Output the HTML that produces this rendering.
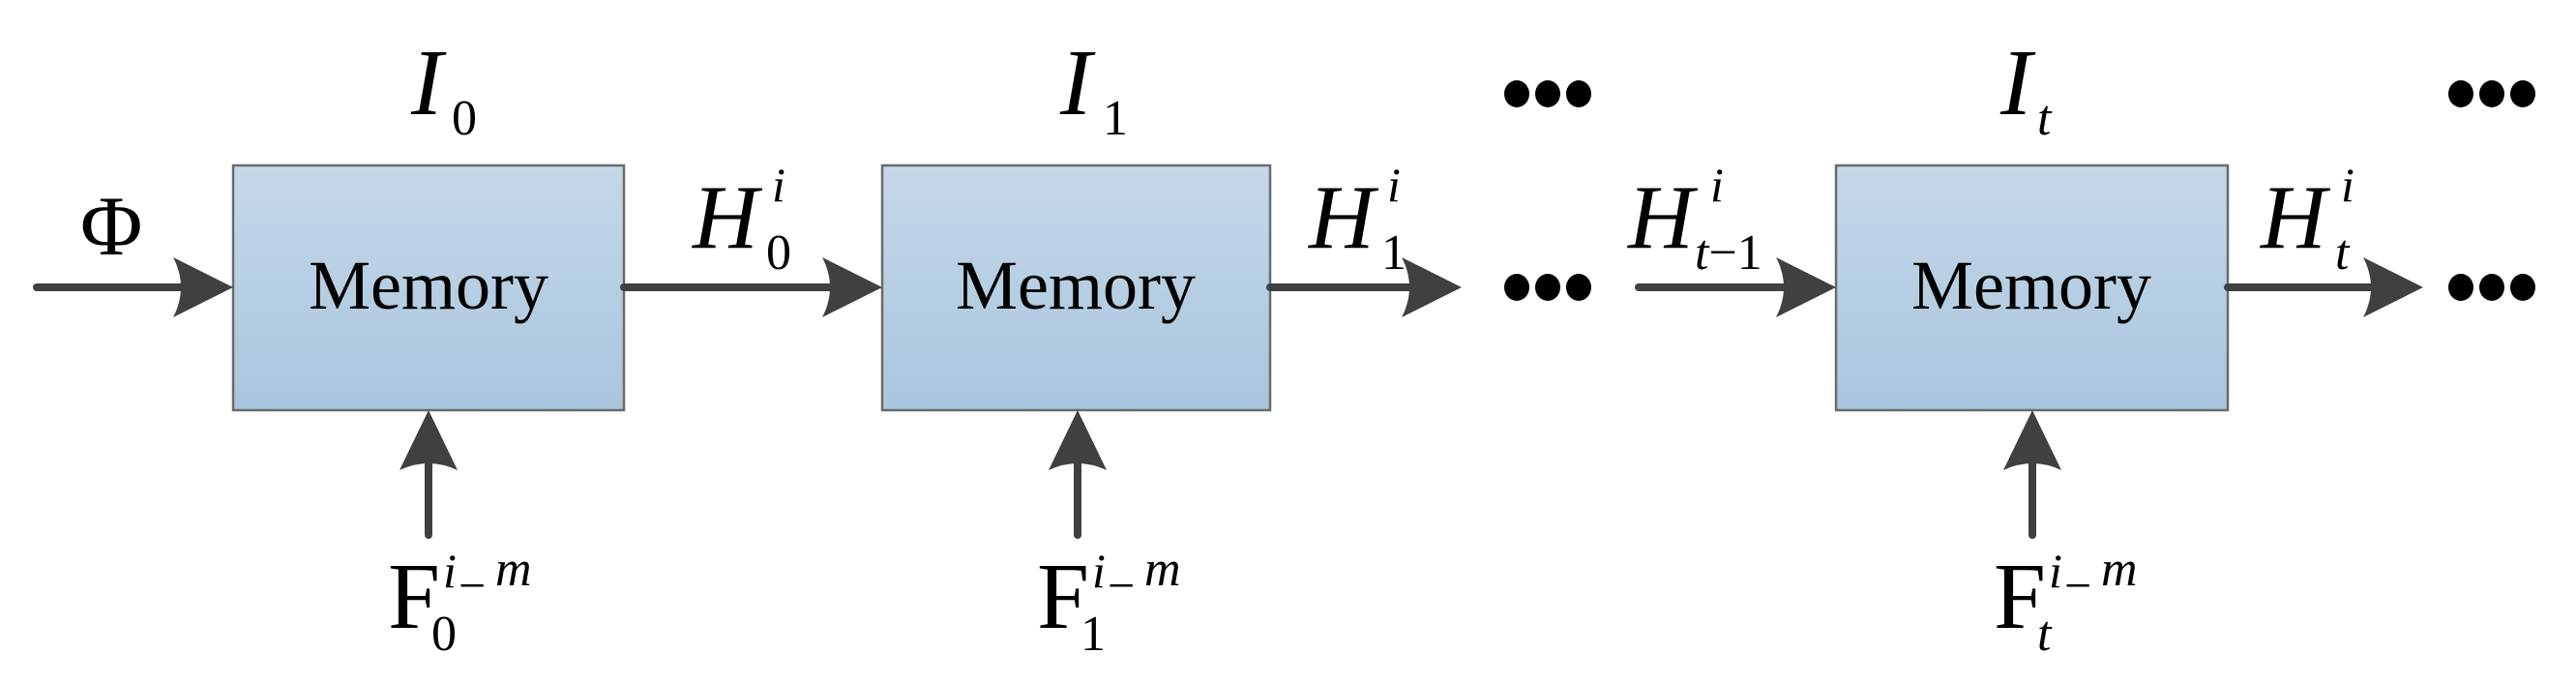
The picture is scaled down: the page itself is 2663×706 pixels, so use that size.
<!DOCTYPE html>
<html><head><meta charset="utf-8"><style>
html,body{margin:0;padding:0;background:#fff;}
svg{display:block;}
text{font-family:"Liberation Serif",serif;fill:#000;}
.it{font-style:italic;}
</style></head><body>
<svg width="2663" height="706" viewBox="0 0 2663 706" xmlns="http://www.w3.org/2000/svg">
<defs>
<linearGradient id="g" x1="0" y1="0" x2="0" y2="1">
<stop offset="0" stop-color="#c5d8e9"/><stop offset="1" stop-color="#a9c5dd"/>
</linearGradient>
</defs>
<!-- boxes -->
<rect x="241" y="171" width="404" height="253" fill="url(#g)" stroke="#6b6b6b" stroke-width="2.5"/>
<rect x="912" y="171" width="401" height="253" fill="url(#g)" stroke="#6b6b6b" stroke-width="2.5"/>
<rect x="1898" y="171" width="405" height="253" fill="url(#g)" stroke="#6b6b6b" stroke-width="2.5"/>
<g stroke="#404040" stroke-width="8" stroke-linecap="round" fill="none">
<line x1="38" y1="297" x2="200" y2="297"/>
<line x1="645" y1="297" x2="870" y2="297"/>
<line x1="1313" y1="297" x2="1470" y2="297"/>
<line x1="1694" y1="297" x2="1860" y2="297"/>
<line x1="2303" y1="297" x2="2465" y2="297"/>
<line x1="443" y1="553" x2="443" y2="470"/>
<line x1="1114" y1="553" x2="1114" y2="470"/>
<line x1="2101" y1="553" x2="2101" y2="470"/>
</g>
<g fill="#404040">
<path d="M241 297 L179 266 Q195 297 179 328 Z"/>
<path d="M912 297 L850 266 Q866 297 850 328 Z"/>
<path d="M1511 297 L1449 266 Q1465 297 1449 328 Z"/>
<path d="M1898 297 L1836 266 Q1852 297 1836 328 Z"/>
<path d="M2505 297 L2443 266 Q2459 297 2443 328 Z"/>
<path d="M443 424 L413 486 Q443 472 473 486 Z"/>
<path d="M1114 424 L1084 486 Q1114 472 1144 486 Z"/>
<path d="M2101 424 L2071 486 Q2101 472 2131 486 Z"/>
</g>
<!-- dots -->
<g fill="#000">
<ellipse cx="1568" cy="97" rx="13" ry="14"/><ellipse cx="1600" cy="97" rx="13" ry="14"/><ellipse cx="1632" cy="97" rx="13" ry="14"/>
<ellipse cx="1568" cy="297" rx="13" ry="14"/><ellipse cx="1600" cy="297" rx="13" ry="14"/><ellipse cx="1632" cy="297" rx="13" ry="14"/>
<ellipse cx="2544" cy="97" rx="13" ry="14"/><ellipse cx="2576" cy="97" rx="13" ry="14"/><ellipse cx="2608" cy="97" rx="13" ry="14"/>
<ellipse cx="2544" cy="297" rx="13" ry="14"/><ellipse cx="2576" cy="297" rx="13" ry="14"/><ellipse cx="2608" cy="297" rx="13" ry="14"/>
</g>
<!-- Memory labels -->
<text x="443" y="319" font-size="72" text-anchor="middle">Memory</text>
<text x="1112" y="319" font-size="72" text-anchor="middle">Memory</text>
<text x="2100" y="319" font-size="72" text-anchor="middle">Memory</text>
<!-- Phi -->
<text x="83" y="263" font-size="88">Φ</text>
<!-- I labels -->
<text class="it" x="425" y="118" font-size="98">I</text><text x="467" y="139" font-size="52">0</text>
<text class="it" x="1096" y="118" font-size="98">I</text><text x="1140" y="139" font-size="52">1</text>
<text class="it" x="2068" y="118" font-size="98">I</text><text class="it" x="2106" y="139" font-size="52">t</text>
<!-- H labels -->
<text class="it" x="716" y="256" font-size="94">H</text><text class="it" x="798" y="208" font-size="50">i</text><text x="792" y="278" font-size="52">0</text>
<text class="it" x="1353" y="256" font-size="94">H</text><text class="it" x="1434" y="208" font-size="50">i</text><text x="1428" y="278" font-size="52">1</text>
<text class="it" x="1683" y="256" font-size="94">H</text><text class="it" x="1768" y="208" font-size="50">i</text><text x="1752" y="278" font-size="52"><tspan font-style="italic">t</tspan>−1</text>
<text class="it" x="2337" y="256" font-size="94">H</text><text class="it" x="2420" y="208" font-size="50">i</text><text class="it" x="2414" y="278" font-size="52">t</text>
<!-- F labels -->
<text x="401" y="649" font-size="97">F</text><text x="446" y="672" font-size="52">0</text><text class="it" x="458" y="607" font-size="50">i</text><text x="474" y="622" font-size="50">−</text><text class="it" x="512" y="605" font-size="52">m</text>
<text x="1072" y="649" font-size="97">F</text><text x="1117" y="672" font-size="52">1</text><text class="it" x="1129" y="607" font-size="50">i</text><text x="1145" y="622" font-size="50">−</text><text class="it" x="1183" y="605" font-size="52">m</text>
<text x="2061" y="649" font-size="97">F</text><text class="it" x="2106" y="672" font-size="52">t</text><text class="it" x="2118" y="607" font-size="50">i</text><text x="2134" y="622" font-size="50">−</text><text class="it" x="2172" y="605" font-size="52">m</text>
</svg>
</body></html>
